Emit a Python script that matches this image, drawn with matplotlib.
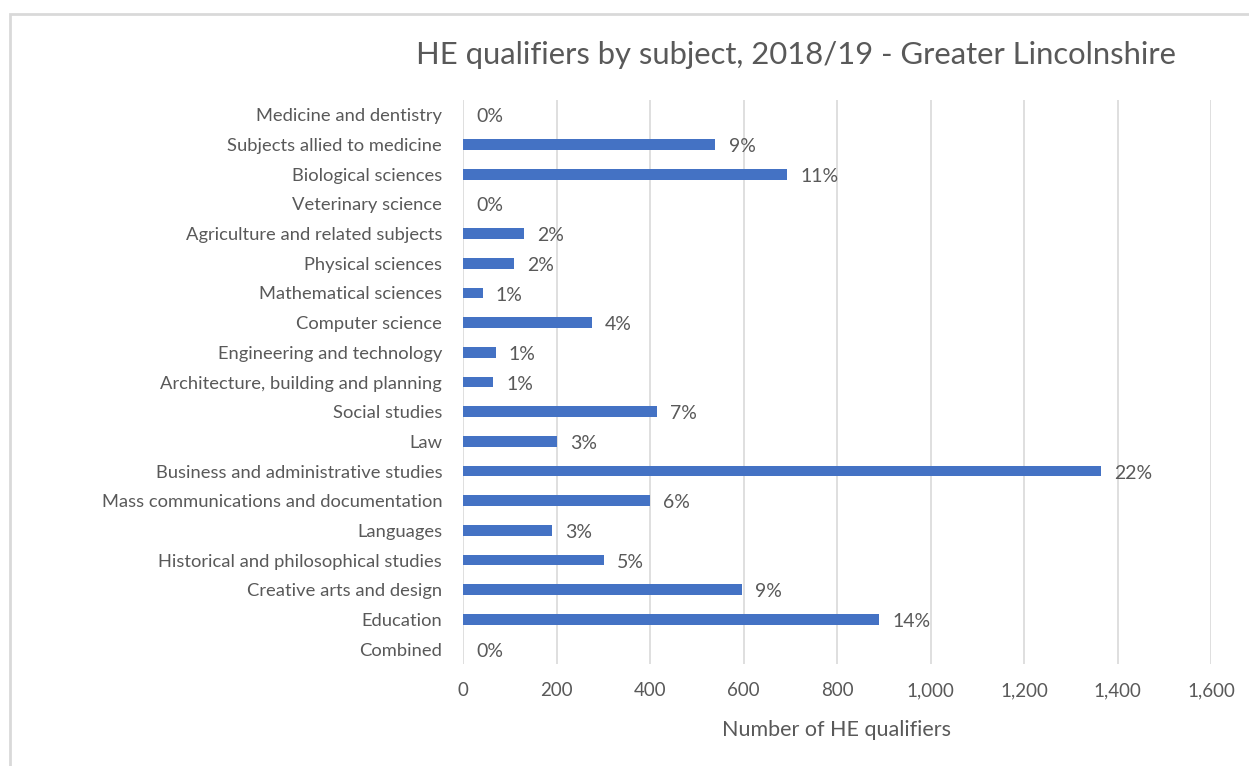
import matplotlib
matplotlib.use("Agg")
import matplotlib.pyplot as plt
from matplotlib.patches import Rectangle
from matplotlib.ticker import FuncFormatter, MultipleLocator

subjects = [
    "Medicine and dentistry",
    "Subjects allied to medicine",
    "Biological sciences",
    "Veterinary science",
    "Agriculture and related subjects",
    "Physical sciences",
    "Mathematical sciences",
    "Computer science",
    "Engineering and technology",
    "Architecture, building and planning",
    "Social studies",
    "Law",
    "Business and administrative studies",
    "Mass communications and documentation",
    "Languages",
    "Historical and philosophical studies",
    "Creative arts and design",
    "Education",
    "Combined",
]
qualifiers = [0, 540, 694, 0, 130, 110, 42, 276, 70, 65, 414, 200,
              1365, 399, 190, 301, 596, 890, 0]

title = "HE qualifiers by subject, 2018/19 - Greater Lincolnshire"
xlabel = "Number of HE qualifiers"

text_color = "#595959"
bar_color = "#4472C4"
grid_color = "#d9d9d9"

plt.rcParams["font.family"] = ["Lato", "DejaVu Sans"]

W, H = 1249, 766
fig = plt.figure(figsize=(W / 100, H / 100), dpi=100)

# chart frame
fig.patches.append(Rectangle((10 / W, -0.05), 1.2, 1 - 14 / H + 0.05,
                             transform=fig.transFigure, fill=False,
                             edgecolor=grid_color, linewidth=2))

ax = fig.add_axes([463 / W, 1 - 664 / H, (1211 - 463) / W, (664 - 100) / H])

n = len(subjects)
pos = list(range(n))
ax.barh(pos, qualifiers, height=0.36, color=bar_color, zorder=3)
ax.set_ylim(n - 0.5, -0.5)
ax.set_xlim(0, 1600)
ax.xaxis.set_major_locator(MultipleLocator(200))
ax.xaxis.set_major_formatter(FuncFormatter(lambda v, p: f"{int(v):,}"))

ax.set_yticks(pos)
ax.set_yticklabels(subjects)
ax.tick_params(axis="y", length=0, pad=15, labelsize=13.2, labelcolor=text_color)
ax.tick_params(axis="x", length=0, pad=13, labelsize=13.5, labelcolor=text_color)

ax.grid(axis="x", color=grid_color, linewidth=1.2, zorder=0)
for s in ax.spines.values():
    s.set_visible(False)

total = sum(qualifiers)
for y, v in zip(pos, qualifiers):
    pct = round(v / total * 100)
    ax.annotate(f"{pct}%", (v, y), xytext=(9.5, -1.5), textcoords="offset points",
                va="center", ha="left", fontsize=14, color=text_color)

ax.set_xlabel(xlabel, fontsize=15.5, color=text_color, labelpad=15)
fig.text(796 / W, 1 - 55 / H, title, ha="center", va="center",
         fontsize=22.3, color=text_color)

fig.savefig("out.png", dpi=100, facecolor="white")
